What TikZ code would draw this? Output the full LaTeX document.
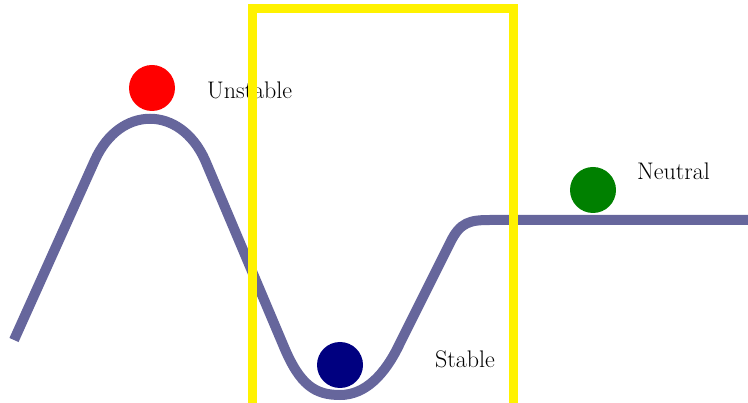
\documentclass[tikz,border=0pt]{standalone}
\usepackage{xcolor}
\usepackage{tikz}

\definecolor{trackblue}{RGB}{102,102,156}
\definecolor{ballnavy}{RGB}{0,0,128}
\definecolor{ballgreen}{RGB}{0,128,0}

\begin{document}
\begin{tikzpicture}[x=1pt,y=-1pt]
			
			\useasboundingbox (0,0) rectangle (748,403);
			
			% track
			\draw[trackblue,line width=10pt] (14,340) -- (95,160)
				.. controls (120,105) and (180,105) .. (205,160)
				-- (284,347)
				.. controls (300,385) and (315,395) .. (340,395)
				.. controls (365,395) and (385,375) .. (400,343)
				-- (450,243)
				.. controls (460,222) and (470,220) .. (490,220)
				-- (750,220);
			
			\node[circle,fill=red,minimum size=46pt,inner sep=0pt] (unstable) at (152,88) {};
			\node[circle,fill=ballnavy,minimum size=46pt,inner sep=0pt] (stable) at (340,365) {};
			\node[circle,fill=ballgreen,minimum size=46pt,inner sep=0pt] (neutral) at (593,190) {};
			
			\node[anchor=base west,inner sep=0pt,font=\fontsize{24}{28}\selectfont] (unstabletext) at (207,99) {Unstable};
			\node[anchor=base west,inner sep=0pt,font=\fontsize{24}{28}\selectfont] (stabletext) at (435,368) {Stable};
			\node[anchor=base west,inner sep=0pt,font=\fontsize{24}{28}\selectfont] (neutraltext) at (637,180) {Neutral};
			
			% box round the stable case
			\draw[yellow,line width=9pt] (252.5,420) -- (252.5,8.5) -- (513,8.5) -- (513,420);
			
		\end{tikzpicture}
\end{document}
